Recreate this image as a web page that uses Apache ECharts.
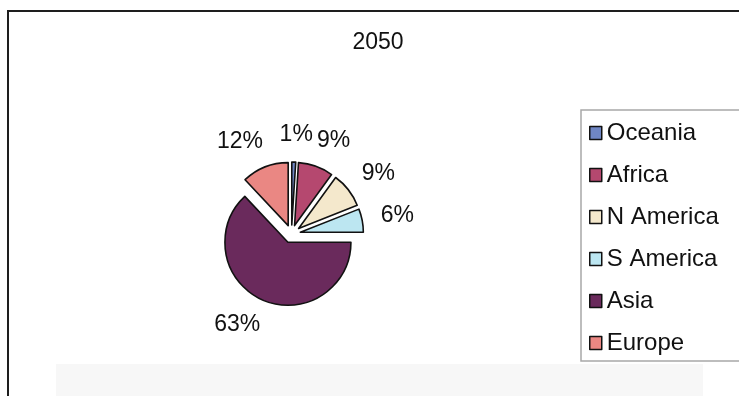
<!DOCTYPE html>
<html>
<head>
<meta charset="utf-8">
<style>
  html, body { margin: 0; padding: 0; background: #ffffff; }
  #chart { width: 739px; height: 396px; }
</style>
<script src="https://cdn.jsdelivr.net/npm/echarts@6/dist/echarts.min.js"></script>
</head>
<body>
<div id="chart"></div>
<script>
// Share of world population by region, 2050 (percent)
const chartTitle = '2050';
const regions = ['Oceania', 'Africa', 'N America', 'S America', 'Asia', 'Europe'];
const shares = [1, 9, 9, 6, 63, 12];
const regionColors = ['#6f86c4', '#b5486f', '#f4e8cc', '#bce6f1', '#6a2a5c', '#ea8783'];

const FONT = "'Liberation Sans', Arial, sans-serif";
const PIE_CENTER = [291.5, 234];
const PIE_R = 63;
const EXPLODE = 9;
const LABEL_REACH = 27;      // radial distance from the rim to the label anchor
const LABEL_PULL = -8;       // labels hug the anchor, slightly overlapping it
const TOP_LABEL_PULL = -15;  // the sliver at 12 o'clock gets its label centred over it

const chart = echarts.init(document.getElementById('chart'), null, { renderer: 'canvas' });

const sliceData = regions.map((name, i) => {
  const item = {
    name: name,
    value: shares[i],
    selected: true,
    itemStyle: { color: regionColors[i] }
  };
  if (i === 0) item.label = { distanceToLabelLine: TOP_LABEL_PULL };
  return item;
});

chart.setOption({
  animation: false,
  backgroundColor: '#ffffff',
  title: {
    text: chartTitle,
    left: 378,
    top: 31,
    padding: 0,
    textAlign: 'center',
    textStyle: { fontFamily: FONT, fontSize: 23, fontWeight: 'normal', color: '#111' }
  },
  legend: {
    orient: 'vertical',
    left: 581,
    top: 110,
    padding: [11, 40, 6, 8],
    itemWidth: 12,
    itemHeight: 13,
    itemGap: 18,
    icon: 'rect',
    selectedMode: false,
    borderColor: '#a8a8a8',
    borderWidth: 1.5,
    itemStyle: { borderColor: '#111', borderWidth: 1.5 },
    textStyle: { fontFamily: FONT, fontSize: 24, lineHeight: 24, color: '#111' },
    data: regions
  },
  graphic: [
    {
      type: 'rect',
      silent: true,
      shape: { x: 56, y: 364, width: 647, height: 32 },
      style: { fill: '#f7f7f7' },
      z: -1
    },
    {
      type: 'polyline',
      silent: true,
      shape: { points: [[8, 396], [8, 11], [739, 11]] },
      style: { stroke: '#1e1e1e', lineWidth: 2, fill: null }
    }
  ],
  series: [
    {
      type: 'pie',
      center: PIE_CENTER,
      radius: PIE_R,
      startAngle: 90,
      clockwise: true,
      selectedMode: 'multiple',
      selectedOffset: EXPLODE,
      avoidLabelOverlap: false,
      silent: true,
      emphasis: { disabled: true },
      itemStyle: { borderColor: '#111', borderWidth: 1.6 },
      label: {
        show: true,
        position: 'outside',
        alignTo: 'none',
        distanceToLabelLine: LABEL_PULL,
        formatter: '{c}%',
        fontFamily: FONT,
        fontSize: 23,
        color: '#111'
      },
      labelLine: { show: false, length: LABEL_REACH, length2: 0 },
      data: sliceData
    }
  ]
});
</script>
</body>
</html>
